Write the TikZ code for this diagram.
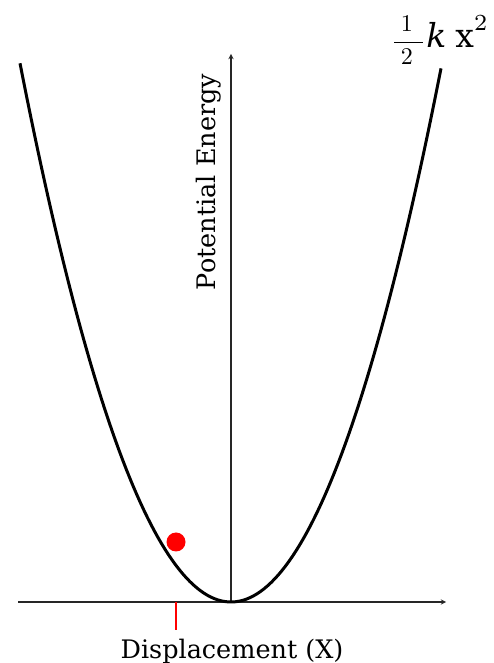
\documentclass[tikz,border=0pt]{standalone}
\usepackage{amsmath}
\usepackage{fontspec}
\setmainfont{DejaVu Serif}
\usepackage{tikz}
\usetikzlibrary{arrows}

\begin{document}
\begin{tikzpicture}[x=1pt, y=1pt, >=stealth,
    axe/.style={->, line width=1.3pt, color=black!85},
    courbe/.style={line width=3pt, line join=round},
    etiquette/.style={font=\fontsize{25.5}{30}\selectfont, inner sep=0pt}]
    % Cadre de l'image
    \useasboundingbox (0,0) rectangle (493,663);

    % Points de repere
    \coordinate (O) at (231,61);
    \coordinate (xg) at (18,61);
    \coordinate (xd) at (446,61);
    \coordinate (yh) at (231,609);
    \coordinate (xp) at (176,61);
    \coordinate (xpb) at (176,33);

    % Axes (deplacement et energie potentielle)
    \draw[axe] (xg) -- (xd);
    \draw[axe] (O) -- (yh);

    % Parabole de l'energie potentielle
    \draw[courbe, domain=-211:210, samples=120, shift={(O)}] plot (\x, {(0.11*\x)*(0.11*\x)});

    % Position de la masse (point rouge) et son repere sur l'axe
    \draw[red, line width=2.5pt] (xp) -- (xpb);
    \fill[red] (176,121) circle (9.5);

    % Labels des axes
    \node[etiquette, rotate=90] (lblE) at (208.5,481) {Potential Energy};
    \node[etiquette, anchor=base] (lblX) at (232,5) {Displacement (X)};

    % Formule de l'energie
    \node[inner sep=0pt, anchor=base west] (formule) at (391,615)
        {\scalebox{2.4}{$\dfrac{\;1\;\,}{\;2\;\,}$}\scalebox{3.3}{$\mathit{k}\;\mathrm{x}^{2}$}};
\end{tikzpicture}
\end{document}
